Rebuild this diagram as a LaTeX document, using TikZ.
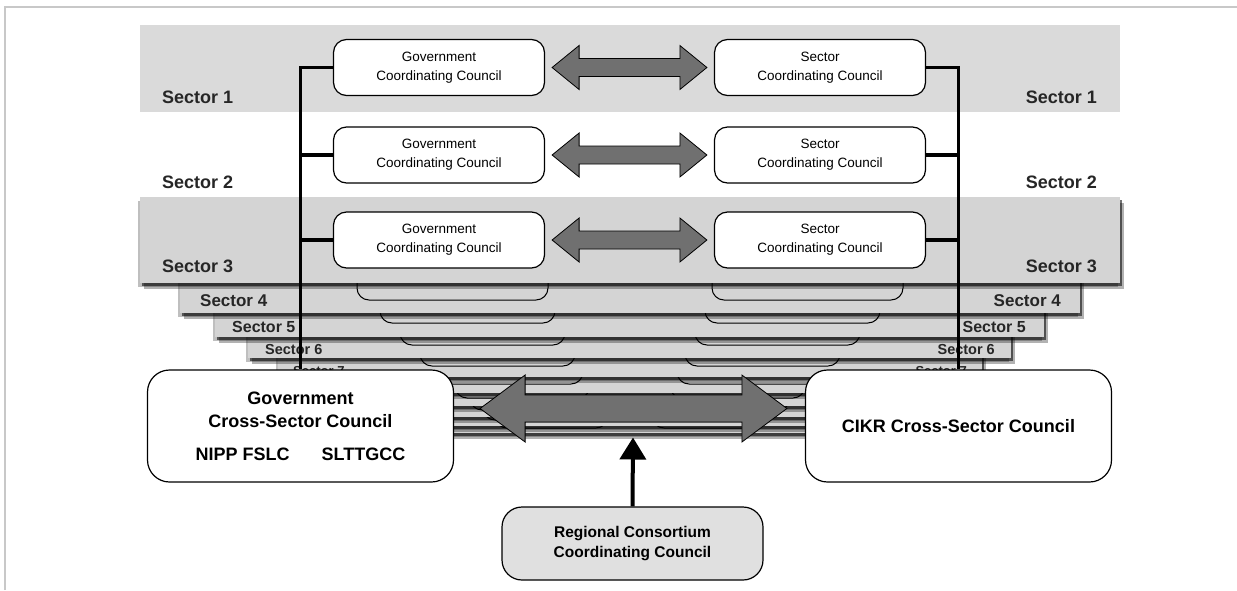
\documentclass[tikz,border=0pt]{standalone}
\usepackage{fontspec}
\setmainfont{Liberation Sans}
\usetikzlibrary{shadows,calc,arrows.meta}

\definecolor{bandgray}{HTML}{DADADA}
\definecolor{layergray}{HTML}{D4D4D4}
\definecolor{arrowgray}{HTML}{707070}
\definecolor{regiongray}{HTML}{E0E0E0}
\definecolor{framegray}{HTML}{C8C8C8}

\tikzset{
  council/.style={draw=black, line width=1.2pt, fill=white, rounded corners=13pt,
    minimum width=211pt, minimum height=56pt, inner sep=0pt, align=center,
    font=\fontsize{13.5}{19}\selectfont},
  bigcouncil/.style={draw=black, line width=1.2pt, fill=white, rounded corners=22pt,
    minimum width=306pt, minimum height=112pt, inner sep=0pt, align=center,
    font=\fontsize{18}{23}\selectfont\bfseries},
  sectorlbl/.style={inner sep=0pt, text=black!85, font=\fontsize{18}{18}\selectfont\bfseries},
  layerlbl/.style={inner sep=0pt, text=black!85, font=\bfseries},
  band/.style={fill=bandgray},
  layer/.style={fill=layergray,
    general shadow={fill=black, opacity=.25, shadow xshift=-2pt, shadow yshift=-4pt},
    drop shadow={fill=black, opacity=.55, shadow xshift=2pt, shadow yshift=-3pt},
    drop shadow={fill=black, opacity=.3, shadow xshift=4pt, shadow yshift=-6pt}},
  peek/.style={draw=black, line width=1pt, rounded corners=12pt},
  trunk/.style={line width=3.5pt},
  uparrow/.style={line width=4pt, -{Triangle[length=22pt,width=26pt]}},
}

% fat double arrow: tail, tip, half shaft, half head, head length
\newcommand{\fatarrow}[5]{%
  \path[fill=arrowgray, draw=black, line width=.8pt] let \p1=(#1), \p2=(#2) in
    (\x1,\y1) -- (\x1+#5,\y1+#4) -- (\x1+#5,\y1+#3) -- (\x2-#5,\y1+#3)
    -- (\x2-#5,\y1+#4) -- (\x2,\y1) -- (\x2-#5,\y1-#4) -- (\x2-#5,\y1-#3)
    -- (\x1+#5,\y1-#3) -- (\x1+#5,\y1-#4) -- cycle;}

\begin{document}
\begin{tikzpicture}[x=1pt,y=-1pt]
  \useasboundingbox (0,0) rectangle (1237,590);
  \draw[framegray, line width=1.5pt] (5,590) -- (5,7) -- (1237,7);

  % sectors further back, back to front
  \path[layer] (398,406) rectangle (862,433);
  \draw[peek] (495,383) rectangle (608,428);
  \draw[peek] (652,383) rectangle (765,428);
  \path[layer] (378,397) rectangle (882,426);
  \draw[peek] (483,375) rectangle (603,420);
  \draw[peek] (657,375) rectangle (777,420);
  \path[layer] (356,386) rectangle (904,417);
  \draw[peek] (470,365) rectangle (597,410);
  \draw[peek] (663,365) rectangle (790,410);
  \path[layer] (332,373) rectangle (928,406);
  \draw[peek] (455,353) rectangle (590,398);
  \draw[peek] (670,353) rectangle (805,398);
  \path[layer] (306,357) rectangle (954,393);
  \draw[peek] (438,339) rectangle (583,384);
  \draw[peek] (677,339) rectangle (822,384);
  \path[layer] (278,338) rectangle (982,377);
  \draw[peek] (420,321) rectangle (575,366);
  \draw[peek] (685,321) rectangle (840,366);
  \node[layerlbl, anchor=west, font=\fontsize{13}{13}\selectfont\bfseries] (s7l) at (293,371) {Sector 7};
  \node[layerlbl, anchor=east, font=\fontsize{13}{13}\selectfont\bfseries] (s7r) at (967,371) {Sector 7};
  \path[layer] (248,317) rectangle (1011,358);
  \draw[peek] (400,300) rectangle (565,345);
  \draw[peek] (695,300) rectangle (860,345);
  \node[layerlbl, anchor=west, font=\fontsize{14.5}{14.5}\selectfont\bfseries] (s6l) at (265,350) {Sector 6};
  \node[layerlbl, anchor=east, font=\fontsize{14.5}{14.5}\selectfont\bfseries] (s6r) at (995,350) {Sector 6};
  \path[layer] (215,293) rectangle (1044,337);
  \draw[peek] (380,278) rectangle (555,323);
  \draw[peek] (705,278) rectangle (880,323);
  \node[layerlbl, anchor=west, font=\fontsize{16}{16}\selectfont\bfseries] (s5l) at (232,327) {Sector 5};
  \node[layerlbl, anchor=east, font=\fontsize{16}{16}\selectfont\bfseries] (s5r) at (1026,327) {Sector 5};
  \path[layer] (180,263) rectangle (1080,313);
  \draw[peek] (357,255) rectangle (548,300);
  \draw[peek] (712,255) rectangle (903,300);
  \node[layerlbl, anchor=west, font=\fontsize{17}{17}\selectfont\bfseries] (s4l) at (200,301) {Sector 4};
  \node[layerlbl, anchor=east, font=\fontsize{17}{17}\selectfont\bfseries] (s4r) at (1061,301) {Sector 4};

  % front sectors
  \path[band, layer] (140,197) rectangle (1120,283);
  \path[band] (140,25) rectangle (1120,112);
  \node[sectorlbl, anchor=west] (s1l) at (162,97) {Sector 1};
  \node[sectorlbl, anchor=east] (s1r) at (1097,97) {Sector 1};
  \node[sectorlbl, anchor=west] (s2l) at (162,182) {Sector 2};
  \node[sectorlbl, anchor=east] (s2r) at (1097,182) {Sector 2};
  \node[sectorlbl, anchor=west] (s3l) at (162,266) {Sector 3};
  \node[sectorlbl, anchor=east] (s3r) at (1097,266) {Sector 3};

  % councils per sector
  \node[council] (gcc1) at (439,67.5) {Government\\Coordinating Council};
  \node[council] (scc1) at (820,67.5) {Sector\\Coordinating Council};
  \node[council] (gcc2) at (439,155) {Government\\Coordinating Council};
  \node[council] (scc2) at (820,155) {Sector\\Coordinating Council};
  \node[council] (gcc3) at (439,240) {Government\\Coordinating Council};
  \node[council] (scc3) at (820,240) {Sector\\Coordinating Council};
  \fatarrow{[xshift=7pt]gcc1.east}{[xshift=-7pt]scc1.west}{9pt}{22pt}{27pt}
  \fatarrow{[xshift=7pt]gcc2.east}{[xshift=-7pt]scc2.west}{9pt}{22pt}{27pt}
  \fatarrow{[xshift=7pt]gcc3.east}{[xshift=-7pt]scc3.west}{9pt}{22pt}{27pt}

  % cross-sector councils
  \node[bigcouncil] (gxs) at (300.5,426) {Government\\Cross-Sector Council\\[10pt]NIPP FSLC\hspace{32pt}SLTTGCC};
  \node[bigcouncil] (cxs) at (958.5,426) {CIKR Cross-Sector Council};
  \node[draw=black, line width=1.2pt, fill=regiongray, rounded corners=20pt,
    minimum width=261pt, minimum height=73pt, inner sep=0pt, align=center,
    font=\fontsize{15.5}{20}\selectfont\bfseries] (rcc) at (632.5,543.5)
    {Regional Consortium\\Coordinating Council};
  \coordinate (hub) at (633,408.5);

  \draw[trunk] (gcc1.west) -| (gxs.north);
  \draw[trunk] (gcc2.west) -| (gxs.north);
  \draw[trunk] (gcc3.west) -| (gxs.north);
  \draw[trunk] (scc1.east) -| (cxs.north);
  \draw[trunk] (scc2.east) -| (cxs.north);
  \draw[trunk] (scc3.east) -| (cxs.north);

  \fatarrow{$(gxs.east |- hub)+(26,0)$}{$(cxs.west |- hub)+(-18,0)$}{13.5pt}{33.5pt}{45pt}
  \draw[uparrow] (rcc.north) -- ([yshift=-29pt]hub);
\end{tikzpicture}
\end{document}
